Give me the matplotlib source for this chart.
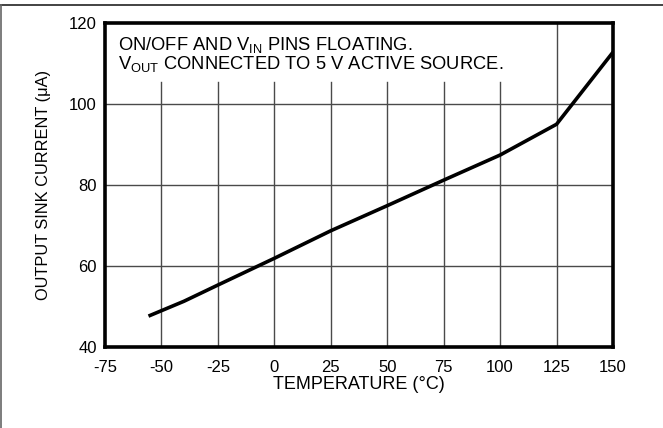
import matplotlib
matplotlib.use("Agg")
import matplotlib.pyplot as plt
from matplotlib.lines import Line2D

plt.rcParams['font.family'] = ['Liberation Sans', 'DejaVu Sans']
plt.rcParams['mathtext.fontset'] = 'custom'
plt.rcParams['mathtext.rm'] = 'Liberation Sans'
plt.rcParams['mathtext.it'] = 'Liberation Sans'

# Data
temperature = [-55, -40, -25, 0, 25, 50, 75, 100, 125, 150]
sink_current = [47.8, 51.3, 55.3, 61.9, 68.7, 74.9, 81.2, 87.4, 95.0, 112.8]

x_ticks = [-75, -50, -25, 0, 25, 50, 75, 100, 125, 150]
y_ticks = [40, 60, 80, 100, 120]

W, H = 663, 428
fig = plt.figure(figsize=(W / 100, H / 100), dpi=100)
ax = fig.add_axes([105 / W, (H - 347) / H, 508 / W, 324 / H])

ax.set_xlim(-75, 150)
ax.set_ylim(40, 120)

# grid: vertical lines interrupted by the note box at top
grid_color = '#4a4a4a'
note_bottom = 105.4
for xv in x_ticks[1:-1]:
    top = 120 if xv >= 125 else note_bottom
    ax.plot([xv, xv], [40, top], color=grid_color, lw=1.0, zorder=1)
for yv in y_ticks[1:-1]:
    ax.axhline(yv, color=grid_color, lw=1.0, zorder=1)

ax.plot(temperature, sink_current, color='black', lw=2.6, zorder=3,
        solid_joinstyle='miter')

for s in ax.spines.values():
    s.set_linewidth(2.6)
    s.set_color('black')

ax.set_xticks(x_ticks)
ax.set_yticks(y_ticks)
ax.set_xticklabels([str(v) for v in x_ticks])
ax.set_yticklabels([str(v) for v in y_ticks])
ax.tick_params(axis='both', length=0, labelsize=12)
ax.tick_params(axis='x', pad=9)
ax.tick_params(axis='y', pad=6)

ax.set_xlabel('TEMPERATURE (°C)', fontsize=13, labelpad=1)
ax.set_ylabel('OUTPUT SINK CURRENT (μA)', fontsize=11.8, labelpad=13)

ax.text(0.025, 1 - 22 / 324, r'ON/OFF AND V$_{\rm IN}$ PINS FLOATING.',
        transform=ax.transAxes, fontsize=13.2, va='center', ha='left')
ax.text(0.025, 1 - 41 / 324, r'V$_{\rm OUT}$ CONNECTED TO 5 V ACTIVE SOURCE.',
        transform=ax.transAxes, fontsize=13.2, va='center', ha='left')

# partial figure frame (top and left)
fig.add_artist(Line2D([0, 1], [(H - 5) / H, (H - 5) / H],
                      transform=fig.transFigure, color='#222222', lw=1.2))
fig.add_artist(Line2D([1.2 / W, 1.2 / W], [0, (H - 5) / H],
                      transform=fig.transFigure, color='#666666', lw=1.2))

fig.savefig('out.png', dpi=100)
